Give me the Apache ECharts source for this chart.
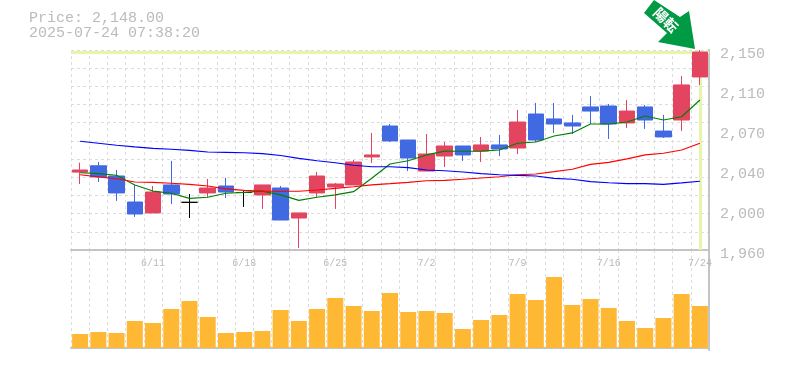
<!DOCTYPE html>
<html>
<head>
<meta charset="utf-8">
<style>
  html, body { margin: 0; padding: 0; background: #fff; }
  #chart { width: 785px; height: 370px; }
</style>
<script src="https://cdn.jsdelivr.net/npm/echarts@6/dist/echarts.min.js"></script>
</head>
<body>
<div id="chart"></div>
<script>
var dates = ['6/5', '6/6', '6/9', '6/10', '6/11', '6/12', '6/13', '6/16', '6/17', '6/18', '6/19', '6/20', '6/23', '6/24', '6/25', '6/26', '6/27', '6/30', '7/1', '7/2', '7/3', '7/4', '7/7', '7/8', '7/9', '7/10', '7/11', '7/14', '7/15', '7/16', '7/17', '7/18', '7/22', '7/23', '7/24']
var dateLabels = ['6/11', '6/18', '6/25', '7/2', '7/9', '7/16', '7/24']
var priceLabels = ['1,960', '2,000', '2,040', '2,070', '2,110', '2,150']

// open, close, low, high
var candles = [
  [2034, 2036, 2022.7, 2043], [2040, 2029.4, 2024.6, 2043.6], [2030.3, 2014.2, 2006.6, 2036],
  [2005.6, 1994.2, 1991.4, 2021.8], [1995.2, 2015.1, 1995.2, 2020.8], [2021.8, 2013.2, 2003.7, 2044.6],
  [2005.3, 2005.3, 1990.4, 2013.2], [2014.2, 2018.9, 2010.4, 2027.5], [2020.8, 2015.1, 2009.4, 2028.4],
  [2014.6, 2014.6, 2000.9, 2016], [2012.3, 2021.8, 1999, 2021.8], [2018.9, 1988.5, 1988.5, 2020.8],
  [1990.4, 1995.2, 1961.9, 1995.2], [2014.2, 2030.3, 2010.4, 2034.1], [2019.9, 2022.7, 1999, 2023.7],
  [2021.8, 2043.6, 2021.8, 2045.5], [2048.4, 2050.3, 2042.7, 2071.2], [2077.8, 2063.6, 2062.6, 2079.7],
  [2064.5, 2047.4, 2035, 2064.5], [2035, 2051.2, 2035, 2070.2], [2049.3, 2058.8, 2038.9, 2062.6],
  [2058.8, 2050.3, 2044.6, 2058.8], [2054, 2059.8, 2043.6, 2067.4], [2059.8, 2056, 2049.3, 2069.3],
  [2056.9, 2081.6, 2051.2, 2093], [2089.2, 2064.5, 2062.6, 2099.7], [2084.5, 2079.7, 2071.2, 2099.7],
  [2080.7, 2077.8, 2070.2, 2088.3], [2095.9, 2092, 2079.7, 2106.3], [2096.8, 2079.7, 2065.5, 2098.7],
  [2080.7, 2092, 2075.9, 2102.5], [2095.9, 2083.5, 2075, 2097.8], [2073, 2067.4, 2066.4, 2088.3],
  [2083.5, 2116.8, 2073, 2125.3], [2124.4, 2148, 2116.8, 2150]
]
var ma5 = [2033.4, 2032.5, 2031, 2021.8, 2016, 2013.9, 2009.1, 2010.1, 2013.9, 2014.8, 2016, 2012.3, 2007.2, 2010.1, 2012.3, 2015.4, 2028.1, 2041.7, 2044.8, 2050.3, 2054, 2053.8, 2054, 2055, 2061.4, 2062.6, 2068.3, 2071.2, 2079.7, 2079.7, 2081.6, 2087.3, 2083.5, 2086.6, 2102.5]
var ma25 = [2031.5, 2029.4, 2027.7, 2024.6, 2024.3, 2023.4, 2022.4, 2020.8, 2018, 2016.7, 2016, 2015.8, 2015.8, 2017, 2018.6, 2020.1, 2021.8, 2023, 2024.3, 2025.8, 2026.2, 2027.2, 2028.4, 2029.6, 2031.5, 2032.2, 2034.4, 2036.7, 2041.4, 2043.3, 2046.5, 2050.3, 2051.9, 2055, 2061.4]
var ma75 = [2063.3, 2061.4, 2059.5, 2057.9, 2056.6, 2055.7, 2054.7, 2053.1, 2052.8, 2052.4, 2051.5, 2049.8, 2047.1, 2044.8, 2042.9, 2040.5, 2039.1, 2039.1, 2038.2, 2036, 2035.3, 2034.1, 2032.5, 2031.5, 2030.8, 2030.3, 2028.1, 2027.2, 2024.9, 2023.9, 2023, 2023, 2022.4, 2023.7, 2025.3]
var volumes = [14, 16, 15, 27, 25, 39, 47, 31, 15, 16, 17, 38, 27, 39, 50, 42, 37, 55, 36, 37, 35, 19, 28, 33, 54, 48, 71, 43, 49, 40, 27, 20, 30, 54, 42]

var lastPrice = 2148
var lastDate = '7/24'
var header = 'Price: 2,148.00\n2025-07-24 07:38:20'
var signalText = '陽転'

var fontMono = '"Liberation Mono", monospace'
var gray = '#bbbbbb'
var border = '#c4c4c4'
var gridLine = { show: true, lineStyle: { color: '#dddddd', type: [3, 3], width: 1 }}

function maSeries(name, data, color) {
  return {
    name: name,
    type: 'line',
    data: data,
    showSymbol: false,
    silent: true,
    z: 3,
    lineStyle: { color: color, width: 1.2 }
  }
}

var chart = echarts.init(document.getElementById('chart'), null, { renderer: 'canvas' })
chart.setOption({
  animation: false,
  backgroundColor: '#fff',
  title: {
    text: header,
    left: 29,
    top: 11,
    padding: 0,
    textStyle: { fontFamily: fontMono, fontSize: 15, fontWeight: 'normal', color: gray, lineHeight: 15 }
  },
  grid: [
    { left: 71, top: 50, width: 638, height: 200 },
    { left: 71, top: 250, width: 638, height: 100 }
  ],
  xAxis: [
    {
      type: 'category',
      gridIndex: 0,
      data: dates,
      axisLine: { lineStyle: { color: border, width: 2 }},
      axisTick: { show: false },
      splitLine: Object.assign({ interval: 0 }, gridLine),
      axisLabel: {
        interval: function(i, v) { return dateLabels.indexOf(v) >= 0 },
        hideOverlap: false,
        margin: 8,
        fontFamily: fontMono,
        fontSize: 10,
        color: gray
      }
    },
    {
      type: 'category',
      gridIndex: 1,
      data: dates,
      axisLine: { lineStyle: { color: border, width: 2 }},
      axisTick: { show: false },
      axisLabel: { show: false },
      splitLine: Object.assign({ interval: 0 }, gridLine)
    }
  ],
  yAxis: [
    { type: 'value', gridIndex: 0, min: 1960, max: 2150, show: false },
    {
      type: 'value',
      gridIndex: 0,
      position: 'right',
      min: 0,
      max: 5,
      interval: 1,
      axisLine: { show: true, lineStyle: { color: border, width: 2 }},
      axisTick: { show: false },
      splitLine: { show: false },
      axisLabel: {
        margin: 11,
        showMinLabel: true,
        showMaxLabel: true,
        formatter: function(v) { return '{p|' + priceLabels[v] + '}' },
        rich: {
          p: { padding: [8, 0, 0, 0], fontFamily: fontMono, fontSize: 15, color: gray }
        }
      }
    },
    {
      type: 'value',
      gridIndex: 0,
      position: 'left',
      min: 0,
      max: 11,
      interval: 1,
      axisLine: { show: false },
      axisTick: { show: false },
      axisLabel: { show: false },
      splitLine: gridLine
    },
    {
      type: 'value',
      gridIndex: 1,
      position: 'right',
      min: -2,
      max: 98,
      axisLine: { show: true, lineStyle: { color: border, width: 2 }},
      axisTick: { show: false },
      axisLabel: { show: false },
      splitLine: { show: false }
    }
  ],
  series: [
    {
      name: 'price',
      type: 'candlestick',
      data: candles,
      xAxisIndex: 0,
      yAxisIndex: 0,
      barWidth: 16,
      z: 2,
      itemStyle: {
        color: '#e3445f',
        color0: '#4169e1',
        borderColor: '#e3445f',
        borderColor0: '#4169e1',
        borderColorDoji: '#000000',
        borderWidth: 1
      },
      markLine: {
        silent: true,
        z: 1,
        symbol: 'none',
        animation: false,
        label: { show: false },
        lineStyle: { color: '#e6f5a9', width: 3, type: 'solid' },
        emphasis: { disabled: true },
        data: [
          { yAxis: lastPrice },
          [{ coord: [lastDate, lastPrice] }, { coord: [lastDate, 1960] }]
        ]
      }
    },
    maSeries('ma5', ma5, '#008000'),
    maSeries('ma25', ma25, '#ff0000'),
    maSeries('ma75', ma75, '#0000ff'),
    {
      name: 'volume',
      type: 'bar',
      data: volumes,
      xAxisIndex: 1,
      yAxisIndex: 3,
      barWidth: 16,
      itemStyle: { color: '#ffb833' }
    }
  ],
  graphic: [
    {
      type: 'polygon',
      silent: true,
      shape: { points: [[644, 13], [654, 0], [680, 17], [689, 11], [695, 49], [658, 42], [667, 33]] },
      style: { fill: '#009944' }
    },
    {
      type: 'text',
      silent: true,
      x: 666,
      y: 20,
      rotation: -Math.PI / 4,
      style: {
        text: signalText,
        fill: '#ffffff',
        font: 'bold 14px "Noto Sans CJK JP"',
        align: 'center',
        verticalAlign: 'middle'
      }
    }
  ]
})
</script>
</body>
</html>
